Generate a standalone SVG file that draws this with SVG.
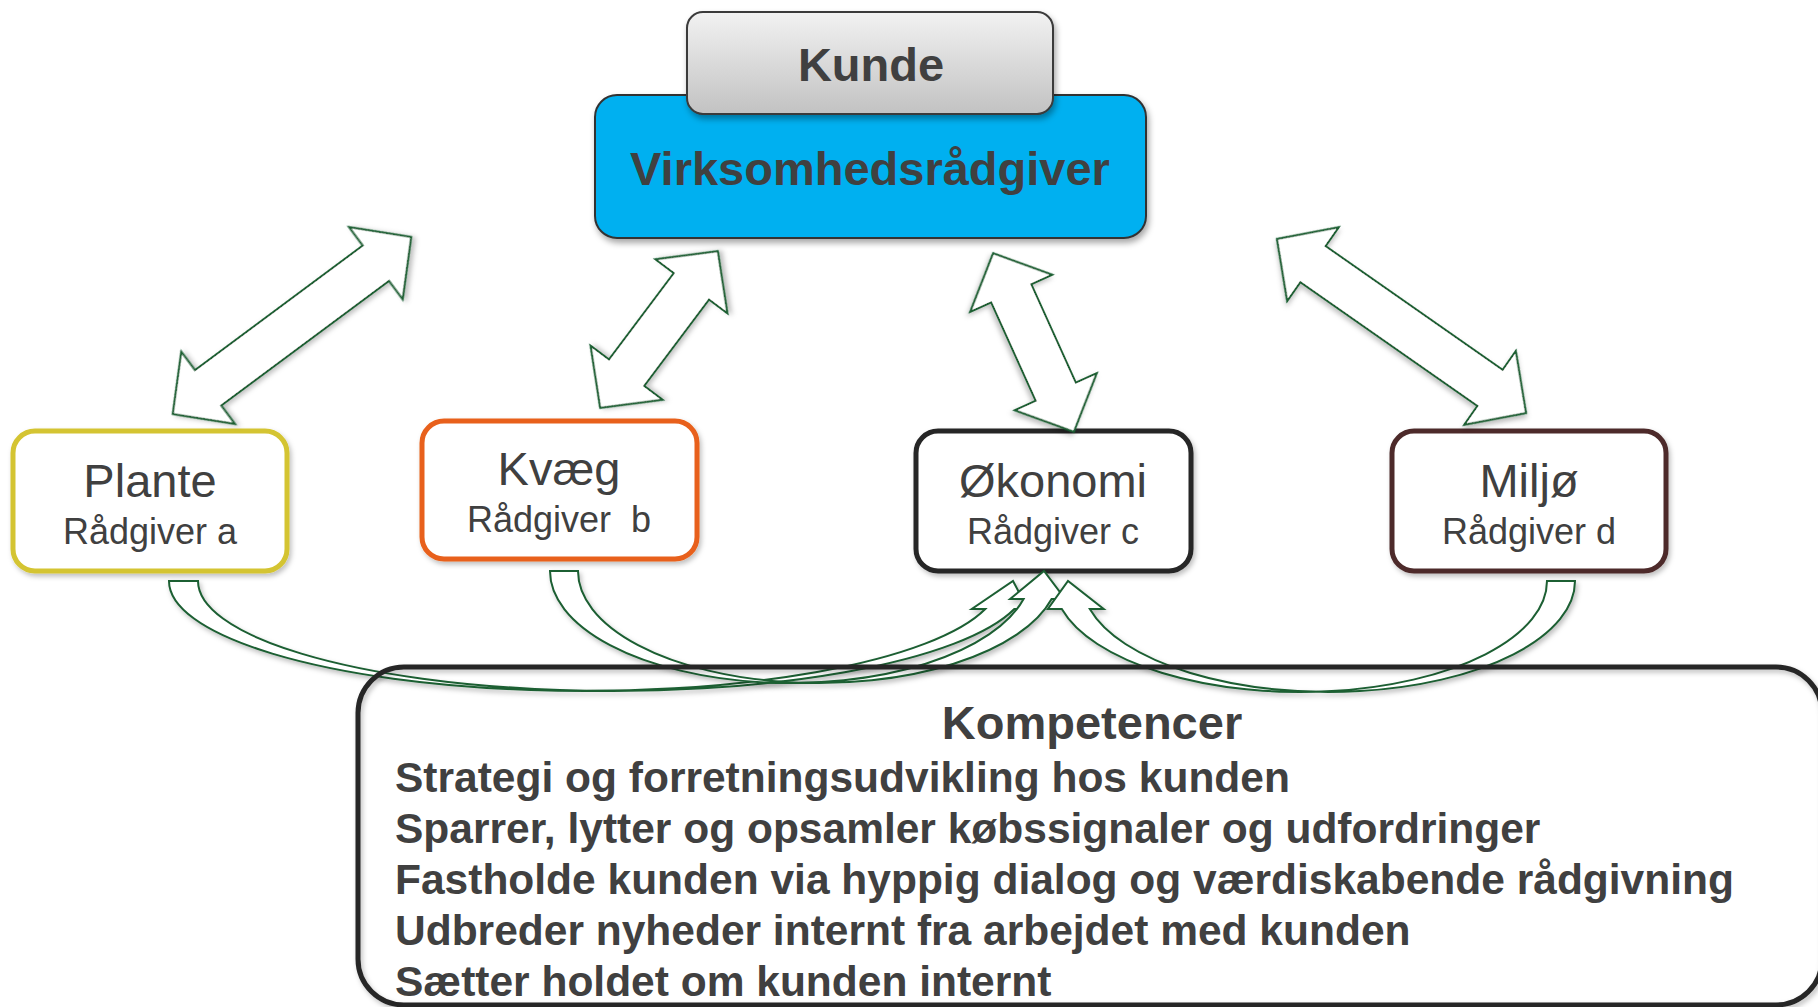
<svg xmlns="http://www.w3.org/2000/svg" width="1818" height="1007" viewBox="0 0 1818 1007">
  <defs>
    <linearGradient id="greyFill" x1="0" y1="0" x2="0" y2="1">
      <stop offset="0" stop-color="#f2f2f2"/>
      <stop offset="1" stop-color="#c2c2c2"/>
    </linearGradient>
    <filter id="shadow" x="-10%" y="-10%" width="130%" height="140%">
      <feDropShadow dx="2" dy="4" stdDeviation="3" flood-color="#000" flood-opacity="0.35"/>
    </filter>
    <filter id="softShadow" x="-10%" y="-10%" width="130%" height="140%">
      <feDropShadow dx="2" dy="3" stdDeviation="2.5" flood-color="#000" flood-opacity="0.25"/>
    </filter>
  </defs>
  <style>
    .lbl { font-family: "Liberation Sans", Arial, sans-serif; fill: #404040; text-anchor: middle; }
    .bold { font-weight: bold; }
    .title { font-size: 47px; }
    .sub { font-size: 36px; white-space: pre; }
    .node { fill: #ffffff; stroke-width: 5; }
    .arrow { fill: #ffffff; stroke: #1b5e32; stroke-width: 2; stroke-linejoin: miter; filter: url(#softShadow); }
    .list { font-family: "Liberation Sans", Arial, sans-serif; font-weight: bold; font-size: 42.5px; fill: #404040; }
  </style>

  <rect width="1818" height="1007" fill="#ffffff"/>

  <!-- advisor nodes -->
  <g id="plante">
    <rect class="node" x="13" y="431" width="274" height="140" rx="22" stroke="#d4c430" filter="url(#softShadow)"/>
    <text class="lbl title" x="150" y="497">Plante</text>
    <text class="lbl sub" x="150" y="544">Rådgiver a</text>
  </g>
  <g id="kvaeg">
    <rect class="node" x="422" y="421" width="275" height="138" rx="22" stroke="#e8611a" filter="url(#softShadow)"/>
    <text class="lbl title" x="559" y="485">Kvæg</text>
    <text class="lbl sub" x="559" y="532">Rådgiver  b</text>
  </g>
  <g id="okonomi">
    <rect class="node" x="916" y="431" width="275" height="140" rx="22" stroke="#262626" filter="url(#softShadow)"/>
    <text class="lbl title" x="1053" y="497">Økonomi</text>
    <text class="lbl sub" x="1053" y="544">Rådgiver c</text>
  </g>
  <g id="miljo">
    <rect class="node" x="1392" y="431" width="274" height="140" rx="22" stroke="#4d2b2b" filter="url(#softShadow)"/>
    <text class="lbl title" x="1529" y="497">Miljø</text>
    <text class="lbl sub" x="1529" y="544">Rådgiver d</text>
  </g>

  <!-- business advisor with the customer tab on top -->
  <g id="virksomhedsraadgiver">
    <rect x="595" y="95" width="551" height="143" rx="22" fill="#00b0f0" stroke="#333333" stroke-width="2" filter="url(#shadow)"/>
    <text class="lbl bold" x="870" y="185" font-size="47">Virksomhedsrådgiver</text>
  </g>
  <g id="kunde">
    <rect x="687" y="12" width="366" height="102" rx="16" fill="url(#greyFill)" stroke="#3a3a3a" stroke-width="2" filter="url(#shadow)"/>
    <text class="lbl bold" x="871" y="81" font-size="47">Kunde</text>
  </g>

  <!-- connectors: double block arrows and curved arrows -->
  <g id="connectors">
    <polygon class="arrow" transform="translate(292 325.5) rotate(-36.6)" points="-148.5,0 -104.5,-45 -104.5,-22 104.5,-22 104.5,-45 148.5,0 104.5,45 104.5,22 -104.5,22 -104.5,45"/>
    <polygon class="arrow" transform="translate(659 329.5) rotate(-53.1)" points="-98,0 -54,-45 -54,-22 54,-22 54,-45 98,0 54,45 54,22 -54,22 -54,45"/>
    <polygon class="arrow" transform="translate(1033.5 342.5) rotate(65.66)" points="-98,0 -54,-45 -54,-22 54,-22 54,-45 98,0 54,45 54,22 -54,22 -54,45"/>
    <polygon class="arrow" transform="translate(1401.5 326) rotate(34.95)" points="-152,0 -108,-45 -108,-22 108,-22 108,-45 152,0 108,45 108,22 -108,22 -108,45"/>

    <path class="arrow" d="M169 581 A415 110 0 0 0 985.3 609 L971.8 609 L1013 581 L1027.8 609 L1014.3 609 A415 110 0 0 1 198 581 Z"/>
    <path class="arrow" d="M550 571 A240.6 112 0 0 0 1023.6 599 L1010.1 599 L1044 571 L1065.1 599 L1051.6 599 A240.6 112 0 0 1 578 571 Z"/>
    <path class="arrow" d="M1575 581 A246.6 111 0 0 1 1089.8 609 L1103.7 609 L1068 581 L1047.9 609 L1061.8 609 A246.6 111 0 0 0 1547 581 Z"/>
  </g>

  <!-- competences panel -->
  <g id="kompetencer">
    <rect x="358" y="667" width="1464" height="338" rx="46" fill="none" stroke="#262626" stroke-width="5" filter="url(#softShadow)"/>
    <text class="lbl bold" x="1092" y="739" font-size="47">Kompetencer</text>
    <text class="list" x="395" y="792">Strategi og forretningsudvikling hos kunden</text>
    <text class="list" x="395" y="843">Sparrer, lytter og opsamler købssignaler og udfordringer</text>
    <text class="list" x="395" y="894">Fastholde kunden via hyppig dialog og værdiskabende rådgivning</text>
    <text class="list" x="395" y="945">Udbreder nyheder internt fra arbejdet med kunden</text>
    <text class="list" x="395" y="996">Sætter holdet om kunden internt</text>
  </g>
</svg>
